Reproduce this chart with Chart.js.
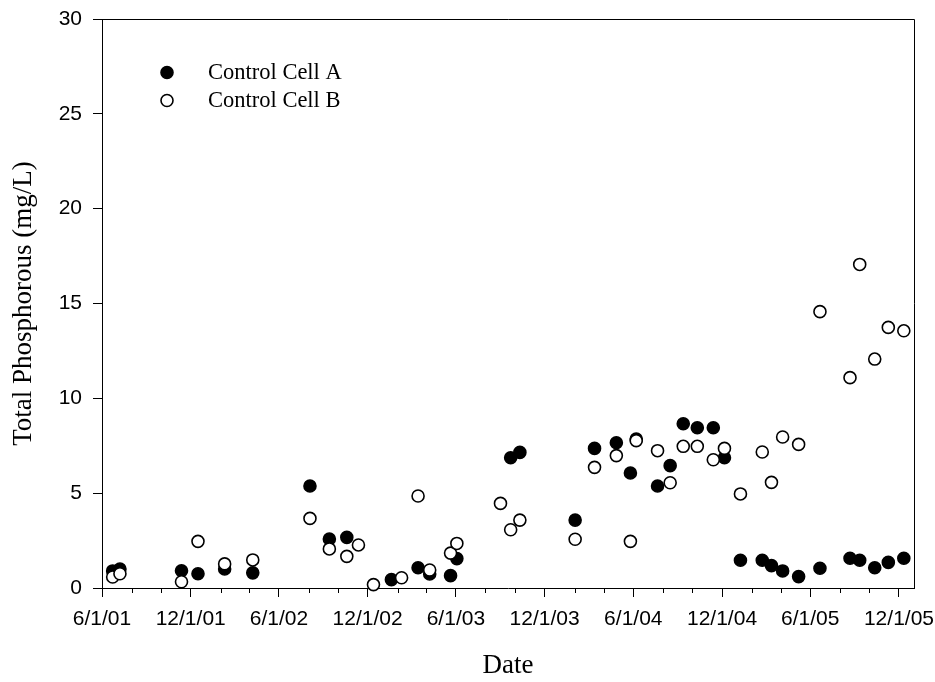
<!DOCTYPE html>
<html>
<head>
<meta charset="utf-8">
<script src="https://cdn.jsdelivr.net/npm/chart.js@4/dist/chart.umd.min.js"></script>
<style>
  html, body { margin: 0; padding: 0; background: #ffffff; }
  .chart-wrap { width: 935px; height: 682px; position: relative; }
</style>
</head>
<body>
<div class="chart-wrap"><canvas id="tp-chart"></canvas></div>
<script>
// sampling dates and total phosphorous (mg/L)
const cellADates = ['2001-06-23', '2001-07-08', '2001-11-12', '2001-12-16', '2002-02-09', '2002-04-08',
  '2002-08-04', '2002-09-13', '2002-10-19', '2003-01-19', '2003-03-15', '2003-04-08', '2003-05-21',
  '2003-06-03', '2003-09-22', '2003-10-11', '2004-02-02', '2004-03-13', '2004-04-27', '2004-05-26',
  '2004-06-07', '2004-07-21', '2004-08-16', '2004-09-12', '2004-10-11', '2004-11-13', '2004-12-06',
  '2005-01-08', '2005-02-22', '2005-03-13', '2005-04-05', '2005-05-08', '2005-06-21', '2005-08-22',
  '2005-09-11', '2005-10-12', '2005-11-09', '2005-12-11'];
const cellAValues = [0.9, 1.0, 0.91, 0.75, 1.0, 0.8,
  5.38, 2.58, 2.67, 0.44, 1.07, 0.74, 0.65,
  1.55, 6.87, 7.15, 3.58, 7.36, 7.66, 6.06,
  7.85, 5.38, 6.45, 8.66, 8.45, 8.45, 6.87,
  1.46, 1.46, 1.18, 0.9, 0.6, 1.04, 1.57,
  1.46, 1.07, 1.35, 1.57];

const cellBDates = ['2001-06-23', '2001-07-08', '2001-11-12', '2001-12-16', '2002-02-09', '2002-04-08',
  '2002-08-04', '2002-09-13', '2002-10-19', '2002-11-12', '2002-12-13', '2003-02-09', '2003-03-15',
  '2003-04-08', '2003-05-21', '2003-06-03', '2003-09-01', '2003-09-22', '2003-10-11', '2004-02-02',
  '2004-03-13', '2004-04-27', '2004-05-26', '2004-06-07', '2004-07-21', '2004-08-16', '2004-09-12',
  '2004-10-11', '2004-11-13', '2004-12-06', '2005-01-08', '2005-02-22', '2005-03-13', '2005-04-05',
  '2005-05-08', '2005-06-21', '2005-08-22', '2005-09-11', '2005-10-12', '2005-11-09', '2005-12-11'];
const cellBValues = [0.58, 0.75, 0.33, 2.46, 1.27, 1.48,
  3.67, 2.06, 1.67, 2.27, 0.18, 0.54, 4.85,
  0.95, 1.84, 2.35, 4.46, 3.07, 3.58, 2.57,
  6.36, 6.98, 2.46, 7.77, 7.24, 5.55, 7.47,
  7.47, 6.76, 7.36, 4.96, 7.17, 5.57, 7.96,
  7.57, 14.57, 11.09, 17.06, 12.07, 13.74, 13.56];

// axis ticks
const majorTickDates = ['2001-06-01', '2001-12-01', '2002-06-01', '2002-12-01', '2003-06-01',
  '2003-12-01', '2004-06-01', '2004-12-01', '2005-06-01', '2005-12-01'];
const minorTickDates = ['2001-08-01', '2001-10-01', '2002-02-01', '2002-04-01', '2002-08-01',
  '2002-10-01', '2003-02-01', '2003-04-01', '2003-08-01', '2003-10-01', '2004-02-01', '2004-04-01',
  '2004-08-01', '2004-10-01', '2005-02-01', '2005-04-01', '2005-08-01', '2005-10-01'];
const xStart = '2001-06-01';
const xEnd = '2006-01-01';
const yTicks = [0, 5, 10, 15, 20, 25, 30];

const seriesNames = ['Control Cell A', 'Control Cell B'];

function toTime(s) {
  const p = s.split('-');
  return Date.UTC(+p[0], +p[1] - 1, +p[2]);
}

function dateLabel(t) {
  const d = new Date(t);
  return (d.getUTCMonth() + 1) + '/' + d.getUTCDate() + '/' + String(d.getUTCFullYear()).slice(2);
}

const toPoints = (dates, values) => dates.map((d, i) => ({x: toTime(d), y: values[i]}));

const tickFont = {family: '"Liberation Sans", Arial, sans-serif', size: 21};
const titleFont = {family: '"Liberation Serif", "Times New Roman", serif', size: 27};

// top/right frame, minor date ticks and the in-plot key
const framePlugin = {
  id: 'framePlugin',
  afterDraw(chart) {
    const ctx = chart.ctx;
    const a = chart.chartArea;
    const xs = chart.scales.x;
    ctx.save();
    ctx.strokeStyle = '#000';
    ctx.lineWidth = 1;
    ctx.beginPath();
    ctx.moveTo(a.left, Math.round(a.top) + 0.5);
    ctx.lineTo(a.right + 0.5, Math.round(a.top) + 0.5);
    ctx.lineTo(a.right + 0.5, a.bottom);
    ctx.stroke();

    ctx.beginPath();
    minorTickDates.forEach(d => {
      const px = Math.round(xs.getPixelForValue(toTime(d))) + 0.5;
      ctx.moveTo(px, a.bottom);
      ctx.lineTo(px, a.bottom + 5);
    });
    ctx.stroke();

    // key
    const kx = a.left + 65;
    const ky = a.top + 53.5;
    chart.data.datasets.forEach((ds, i) => {
      const y = ky + i * 28;
      ctx.beginPath();
      ctx.arc(kx, y, 6, 0, Math.PI * 2);
      ctx.fillStyle = ds.backgroundColor;
      ctx.fill();
      ctx.lineWidth = 1.6;
      ctx.strokeStyle = '#000';
      ctx.stroke();
      ctx.fillStyle = '#000';
      ctx.font = '22.5px "Liberation Serif", "Times New Roman", serif';
      ctx.textBaseline = 'middle';
      ctx.textAlign = 'left';
      ctx.fillText(seriesNames[i], a.left + 106, y + 1);
    });
    ctx.restore();
  }
};

const ctx = document.getElementById('tp-chart');

new Chart(ctx, {
  type: 'scatter',
  data: {
    datasets: [
      {
        label: seriesNames[0],
        data: toPoints(cellADates, cellAValues),
        backgroundColor: '#000000',
        borderColor: '#000000',
        borderWidth: 1.6,
        pointRadius: 6,
        pointHoverRadius: 6,
        order: 1
      },
      {
        label: seriesNames[1],
        data: toPoints(cellBDates, cellBValues),
        backgroundColor: '#ffffff',
        borderColor: '#000000',
        borderWidth: 1.6,
        pointRadius: 6,
        pointHoverRadius: 6,
        order: 0
      }
    ]
  },
  options: {
    responsive: true,
    maintainAspectRatio: false,
    animation: false,
    clip: false,
    layout: {
      padding: {top: 19, right: 21, left: 0, bottom: 0}
    },
    plugins: {
      legend: {display: false},
      tooltip: {enabled: false}
    },
    scales: {
      x: {
        type: 'linear',
        min: toTime(xStart),
        max: toTime(xEnd),
        afterBuildTicks(scale) {
          scale.ticks = majorTickDates.map(d => ({value: toTime(d)}));
        },
        afterFit(scale) {
          scale.height = 94;
          scale.paddingLeft = 0;
          scale.paddingRight = 0;
        },
        grid: {
          drawOnChartArea: false,
          drawTicks: true,
          tickLength: 9,
          tickColor: '#000',
          tickWidth: 1
        },
        border: {display: true, color: '#000', width: 1},
        ticks: {
          color: '#000',
          font: tickFont,
          padding: 10,
          maxRotation: 0,
          autoSkip: false,
          callback: (value) => dateLabel(value)
        },
        title: {
          display: true,
          text: 'Date',
          color: '#000',
          font: titleFont,
          padding: {top: 0, bottom: 0}
        }
      },
      y: {
        min: 0,
        max: 30,
        afterBuildTicks(scale) {
          scale.ticks = yTicks.map(v => ({value: v}));
        },
        afterFit(scale) {
          scale.width = 102;
          scale.paddingTop = 0;
          scale.paddingBottom = 0;
        },
        grid: {
          drawOnChartArea: false,
          drawTicks: true,
          tickLength: 9,
          tickColor: '#000',
          tickWidth: 1
        },
        border: {display: true, color: '#000', width: 1},
        ticks: {
          color: '#000',
          font: tickFont,
          padding: 11
        },
        title: {
          display: true,
          text: 'Total Phosphorous (mg/L)',
          color: '#000',
          font: titleFont,
          padding: {top: 8, bottom: 0}
        }
      }
    }
  },
  plugins: [framePlugin]
});
</script>
</body>
</html>
